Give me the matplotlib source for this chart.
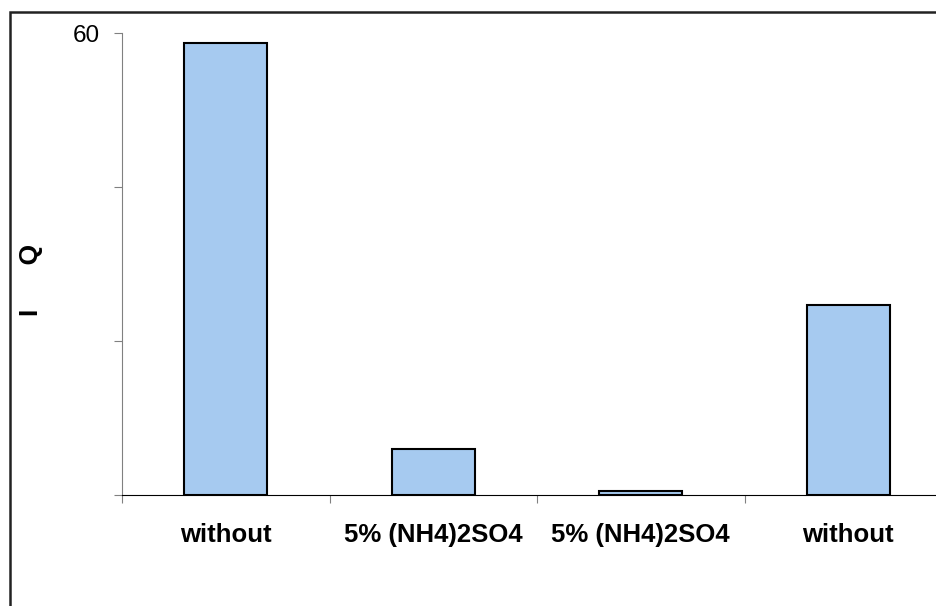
import matplotlib.pyplot as plt
from matplotlib.patches import Rectangle

categories = ["without", "5% (NH4)2SO4", "5% (NH4)2SO4", "without"]
values = [58.7, 6.0, 0.5, 24.7]
y_ticks = [0, 20, 40, 60]
y_ticklabels = ["", "", "", "60"]

W, H = 937, 606
fig = plt.figure(figsize=(W / 100, H / 100), dpi=100)
plt.rcParams['font.family'] = ['Liberation Sans', 'DejaVu Sans']

# frame around the whole chart (right/bottom edges fall off the canvas)
fig.patches.append(Rectangle((10 / W, -0.1), 1.2, 1.1 - 12 / H,
                             transform=fig.transFigure, fill=False,
                             edgecolor="#222222", linewidth=1.8))

ax = fig.add_axes([122 / W, (H - 495) / H, (952 - 122) / W, 462 / H])
x = list(range(len(categories)))
ax.bar(x, values, width=0.4, color="#A6CAF0", edgecolor="black", linewidth=1.5, zorder=3)

ax.set_xlim(-0.5, len(categories) - 0.5)
ax.set_ylim(0, 60)

ax.set_xticks([i - 0.5 for i in range(len(categories) + 1)])
ax.set_xticklabels([])
ax.set_xticks(x, minor=True)
ax.set_xticklabels(categories, minor=True, fontsize=18.5, fontweight="bold")
ax.tick_params(axis="x", which="major", direction="out", length=6, color="#808080")
ax.tick_params(axis="x", which="minor", length=0, pad=20)

ax.set_yticks(y_ticks)
ax.set_yticklabels(y_ticklabels, fontsize=17.5)
ax.tick_params(axis="y", direction="out", length=6, color="#808080", pad=10)

for side in ["top", "right"]:
    ax.spines[side].set_visible(False)
ax.spines["left"].set_color("#808080")
ax.spines["bottom"].set_color("black")

fig.text(31 / W, 1 - 280 / H, "I      Q", rotation=90, fontsize=19,
         fontweight="bold", ha="center", va="center")

fig.savefig("out.png", dpi=100)
